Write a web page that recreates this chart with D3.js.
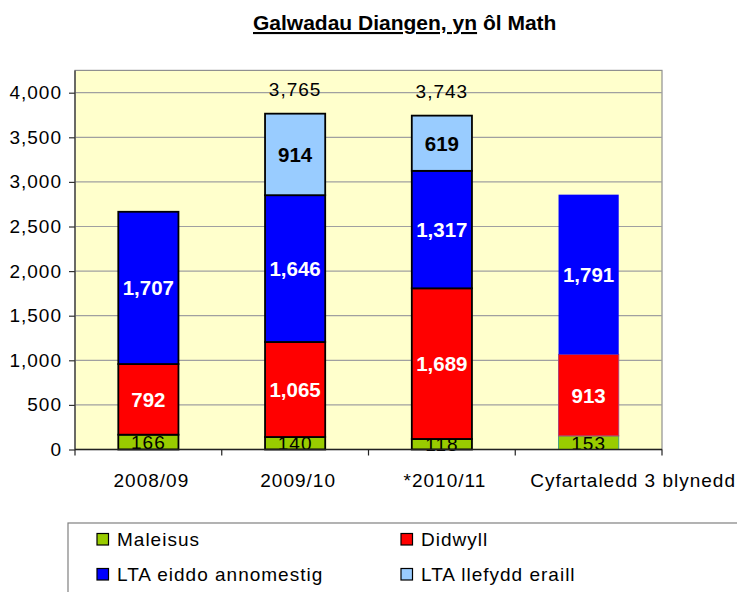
<!DOCTYPE html>
<html>
<head>
<meta charset="utf-8">
<script src="https://cdn.jsdelivr.net/npm/d3@7"></script>
<style>
  body { margin: 0; background: #fff; }
  text { font-family: "Liberation Sans", Arial, sans-serif; }
</style>
</head>
<body>
<div id="wrapper"></div>
<script>
// data
const categories = ["2008/09", "2009/10", "*2010/11", "Cyfartaledd 3 blynedd"]
const maleisus = [166, 140, 118, 153]
const didwyll = [792, 1065, 1689, 913]
const ltaEiddo = [1707, 1646, 1317, 1791]
const ltaLlefydd = [0, 914, 619, 0]
const totalLabels = [null, 3765, 3743, null]
const yTicks = [0, 500, 1000, 1500, 2000, 2500, 3000, 3500, 4000]

const seriesNames = ["Maleisus", "Didwyll", "LTA eiddo annomestig", "LTA llefydd eraill"]
const seriesColors = ["#99cc00", "#ff0000", "#0000ff", "#99ccff"]
const labelColors = ["#000", "#fff", "#fff", "#000"]
const labelWeights = ["normal", "bold", "bold", "bold"]

const width = 737, height = 592
const plot = { left: 75, right: 662, top: 70.4, bottom: 449.5 }

const svg = d3.select("#wrapper").append("svg")
  .attr("width", width)
  .attr("height", height)

const x = d3.scaleBand()
  .domain(categories)
  .range([plot.left, plot.right])
  .paddingInner(0.59)
  .paddingOuter(0.295)

const y = d3.scaleLinear()
  .domain([0, 4250])
  .range([plot.bottom, plot.top])

// title, first part underlined
const title = svg.append("text")
  .attr("x", 253)
  .attr("y", 30)
  .style("font-size", "21px")
  .style("font-weight", "bold")
title.append("tspan").text("Galwadau Diangen, yn")
  .style("text-decoration", "underline")
title.append("tspan").text(" ôl Math")

// plot background
svg.append("rect")
  .attr("x", plot.left)
  .attr("y", plot.top)
  .attr("width", plot.right - plot.left)
  .attr("height", plot.bottom - plot.top)
  .attr("fill", "#ffffcc")
  .attr("stroke", "#909090")
  .attr("stroke-width", 1.2)

// gridlines
svg.append("g").selectAll("line")
  .data(yTicks.filter(d => d > 0))
  .enter().append("line")
  .attr("x1", plot.left)
  .attr("x2", plot.right)
  .attr("y1", d => y(d))
  .attr("y2", d => y(d))
  .attr("stroke", "#a0a0a0")
  .attr("stroke-width", 1.2)

// stack the four series
const rows = categories.map((c, i) => ({
  cat: c, i: i,
  s0: maleisus[i], s1: didwyll[i], s2: ltaEiddo[i], s3: ltaLlefydd[i]
}))
const stacked = d3.stack().keys(["s0", "s1", "s2", "s3"])(rows)

const layers = svg.append("g").selectAll("g")
  .data(stacked)
  .enter().append("g")

layers.selectAll("rect")
  .data((layer, k) => layer.map(d => ({ d: d, k: k })))
  .enter().append("rect")
  .filter(e => e.d[1] - e.d[0] > 0)
  .attr("x", e => x(e.d.data.cat))
  .attr("width", x.bandwidth())
  .attr("y", e => y(e.d[1]))
  .attr("height", e => y(e.d[0]) - y(e.d[1]))
  .attr("fill", e => seriesColors[e.k])
  .attr("stroke", e => {
    // the average bar has no black outline
    if (e.d.data.i == 3) return e.k == 0 ? "#44a080" : e.k == 1 ? "#b04070" : "none"
    return "#000"
  })
  .attr("stroke-width", e => e.d.data.i == 3 ? 1 : 1.8)

// segment labels
layers.selectAll("text")
  .data((layer, k) => layer.map(d => ({ d: d, k: k })))
  .enter().append("text")
  .filter(e => e.d[1] - e.d[0] > 0)
  .attr("x", e => x(e.d.data.cat) + x.bandwidth() / 2)
  .attr("y", e => y((e.d[0] + e.d[1]) / 2))
  .attr("dy", "0.36em")
  .attr("text-anchor", "middle")
  .style("font-size", e => e.k == 0 ? "19px" : "20.5px")
  .style("letter-spacing", e => e.k == 0 ? "1px" : "0px")
  .style("font-weight", e => labelWeights[e.k])
  .attr("fill", e => labelColors[e.k])
  .text(e => d3.format(",")(e.d[1] - e.d[0]))

// totals above bars
svg.append("g").selectAll("text")
  .data(rows.filter(r => totalLabels[r.i] != null))
  .enter().append("text")
  .attr("x", r => x(r.cat) + x.bandwidth() / 2)
  .attr("y", r => y(r.s0 + r.s1 + r.s2 + r.s3) - 17.5)
  .attr("text-anchor", "middle")
  .style("font-size", "19px")
  .style("letter-spacing", "1px")
  .text(r => d3.format(",")(totalLabels[r.i]))

// y axis
const yAxis = svg.append("g")
  .attr("transform", `translate(${plot.left},0)`)
  .call(d3.axisLeft(y).tickValues(yTicks).tickSize(6).tickPadding(7).tickFormat(d3.format(",")))
yAxis.select(".domain").attr("stroke", "#333").attr("stroke-width", 1.2)
  .attr("d", `M0,${plot.top}V${plot.bottom}`)
yAxis.selectAll(".tick line").attr("stroke", "#333").attr("stroke-width", 1.2)
yAxis.selectAll(".tick text")
  .style("font-size", "19px")
  .style("letter-spacing", "1px")
  .style("font-family", "'Liberation Sans', Arial, sans-serif")
  .attr("fill", "#000")

// x axis, ticks sit between categories
const xAxis = svg.append("g")
svg.append("line")
  .attr("x1", plot.left).attr("x2", plot.right)
  .attr("y1", plot.bottom).attr("y2", plot.bottom)
  .attr("stroke", "#222").attr("stroke-width", 1.4)
xAxis.selectAll("line")
  .data(d3.range(categories.length + 1))
  .enter().append("line")
  .attr("x1", i => plot.left + i * x.step())
  .attr("x2", i => plot.left + i * x.step())
  .attr("y1", plot.bottom)
  .attr("y2", plot.bottom + 6)
  .attr("stroke", "#222").attr("stroke-width", 1.2)
xAxis.selectAll("text")
  .data(categories)
  .enter().append("text")
  .attr("x", (d, i) => i == categories.length - 1 ? width - 1 : x(d) + x.bandwidth() / 2 + 3)
  .attr("y", 486.5)
  .attr("text-anchor", (d, i) => i == categories.length - 1 ? "end" : "middle")
  .style("font-size", "19px")
  .style("letter-spacing", "1px")
  .text(d => d)

// legend, box runs off the page like the reference
const legend = svg.append("g")
legend.append("rect")
  .attr("x", 68).attr("y", 523)
  .attr("width", 720).attr("height", 120)
  .attr("fill", "#fff")
  .attr("stroke", "#808080")
  .attr("stroke-width", 1.2)

const items = legend.selectAll("g.item")
  .data(seriesNames)
  .enter().append("g")
  .attr("class", "item")
  .attr("transform", (d, i) => `translate(${i % 2 == 0 ? 97 : 401},${i < 2 ? 533.5 : 568.5})`)
items.append("rect")
  .attr("width", 11.5).attr("height", 11.5)
  .attr("fill", (d, i) => seriesColors[i])
  .attr("stroke", "#000")
  .attr("stroke-width", 1.2)
items.append("text")
  .attr("x", 20)
  .attr("y", 6)
  .attr("dy", "0.36em")
  .style("font-size", "19px")
  .style("letter-spacing", "1px")
  .text(d => d)
</script>
</body>
</html>
